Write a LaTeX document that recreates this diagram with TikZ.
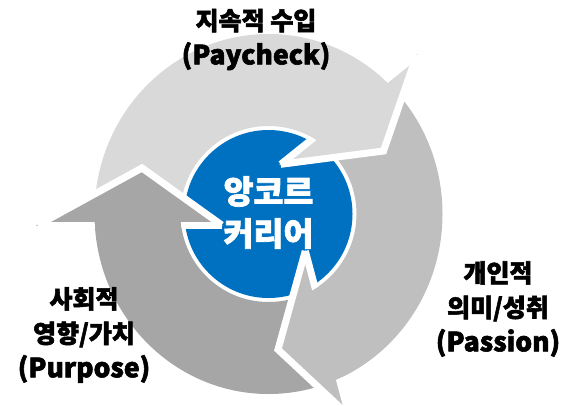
\documentclass[tikz,border=0pt]{standalone}
\usepackage{fontspec}
\newfontfamily\kr{Noto Sans CJK KR}[BoldFeatures={FakeBold=2.2}]
\newcommand{\latinline}[1]{{\fontsize{26.5}{34}\selectfont #1}}
\definecolor{lg}{RGB}{217,217,217}
\definecolor{mg}{RGB}{191,191,191}
\definecolor{dg}{RGB}{166,166,166}
\definecolor{bl}{RGB}{0,112,192}
\tikzset{
  gap/.style={draw=white, line width=7pt, line join=miter},
  lab/.style={font=\kr\bfseries\fontsize{25}{34.5}\selectfont, align=center, inner sep=0pt, text=black},
  hub/.style={font=\kr\bfseries\fontsize{32.5}{42}\selectfont, align=center, inner sep=0pt, text=white}
}
\begin{document}
\begin{tikzpicture}[x=1pt,y=-1pt]
\useasboundingbox (0,0) rectangle (569,405);
\coordinate (C) at (268.5,214);
\coordinate (OD) at (38,225);   \coordinate (AD) at (142,168);   \coordinate (ID) at (221.7,225);
\coordinate (OL) at (416.7,55.1); \coordinate (AL) at (383.5,151); \coordinate (IL) at (280.7,164.3);
\coordinate (OM) at (349.2,416); \coordinate (AM) at (278,349.5); \coordinate (IM) at (305.3,251);
% centre circle
\fill[bl] (C) circle[radius=84];
% shafts
\begin{scope}
\clip (OD) -- (AD) -- (ID) -- (C) -- (IL) -- (OL) -- (430,-20) -- (20,-20) -- cycle;
\fill[lg, even odd rule] (C) ellipse[x radius=174, y radius=180] (C) circle[radius=88];
\end{scope}
\begin{scope}
\clip (OL) -- (AL) -- (IL) -- (C) -- (IM) -- (OM) -- (620,480) -- (620,-40) -- (450,-40) -- cycle;
\fill[mg, even odd rule] (C) ellipse[x radius=174, y radius=180] (C) circle[radius=88];
\end{scope}
\begin{scope}
\clip (OM) -- (AM) -- (IM) -- (C) -- (ID) -- (OD) -- (-20,225) -- (-20,480) -- (349.2,480) -- cycle;
\fill[dg, even odd rule] (C) ellipse[x radius=174, y radius=180] (C) circle[radius=88];
\end{scope}
% heads
\fill[lg, draw=lg, line width=1pt] (OL) -- (AL) -- (IL) -- cycle;
\fill[mg, draw=mg, line width=1pt] (OM) -- (AM) -- (IM) -- cycle;
\fill[dg, draw=dg, line width=1pt] (OD) -- (AD) -- (ID) -- cycle;
% white gaps
\draw[gap] (OD) -- (AD) -- (ID);
\draw[gap] (OL) -- (AL) -- (IL);
\draw[gap] (OM) -- (AM) -- (IM);
\begin{scope}[even odd rule]
\clip (-50,-50) rectangle (650,500) (C) ellipse[x radius=174, y radius=180] (C) circle[radius=88];
\draw[gap] (OD) -- (ID);
\draw[gap] (OL) -- (IL);
\draw[gap] (OM) -- (IM);
\end{scope}
% labels
\node[hub] (hubtext) at (268.5,212.5) {앙코르\\커리어};
\node[lab] (paycheck) at (256,39.5) {지속적 수입\\\latinline{(Paycheck)}};
\node[lab] (passion) at (498,309) {개인적\\의미/성취\\\latinline{(Passion)}};
\node[lab] (purpose) at (84,335) {사회적\\영향/가치\\\latinline{(Purpose)}};
\end{tikzpicture}
\end{document}
